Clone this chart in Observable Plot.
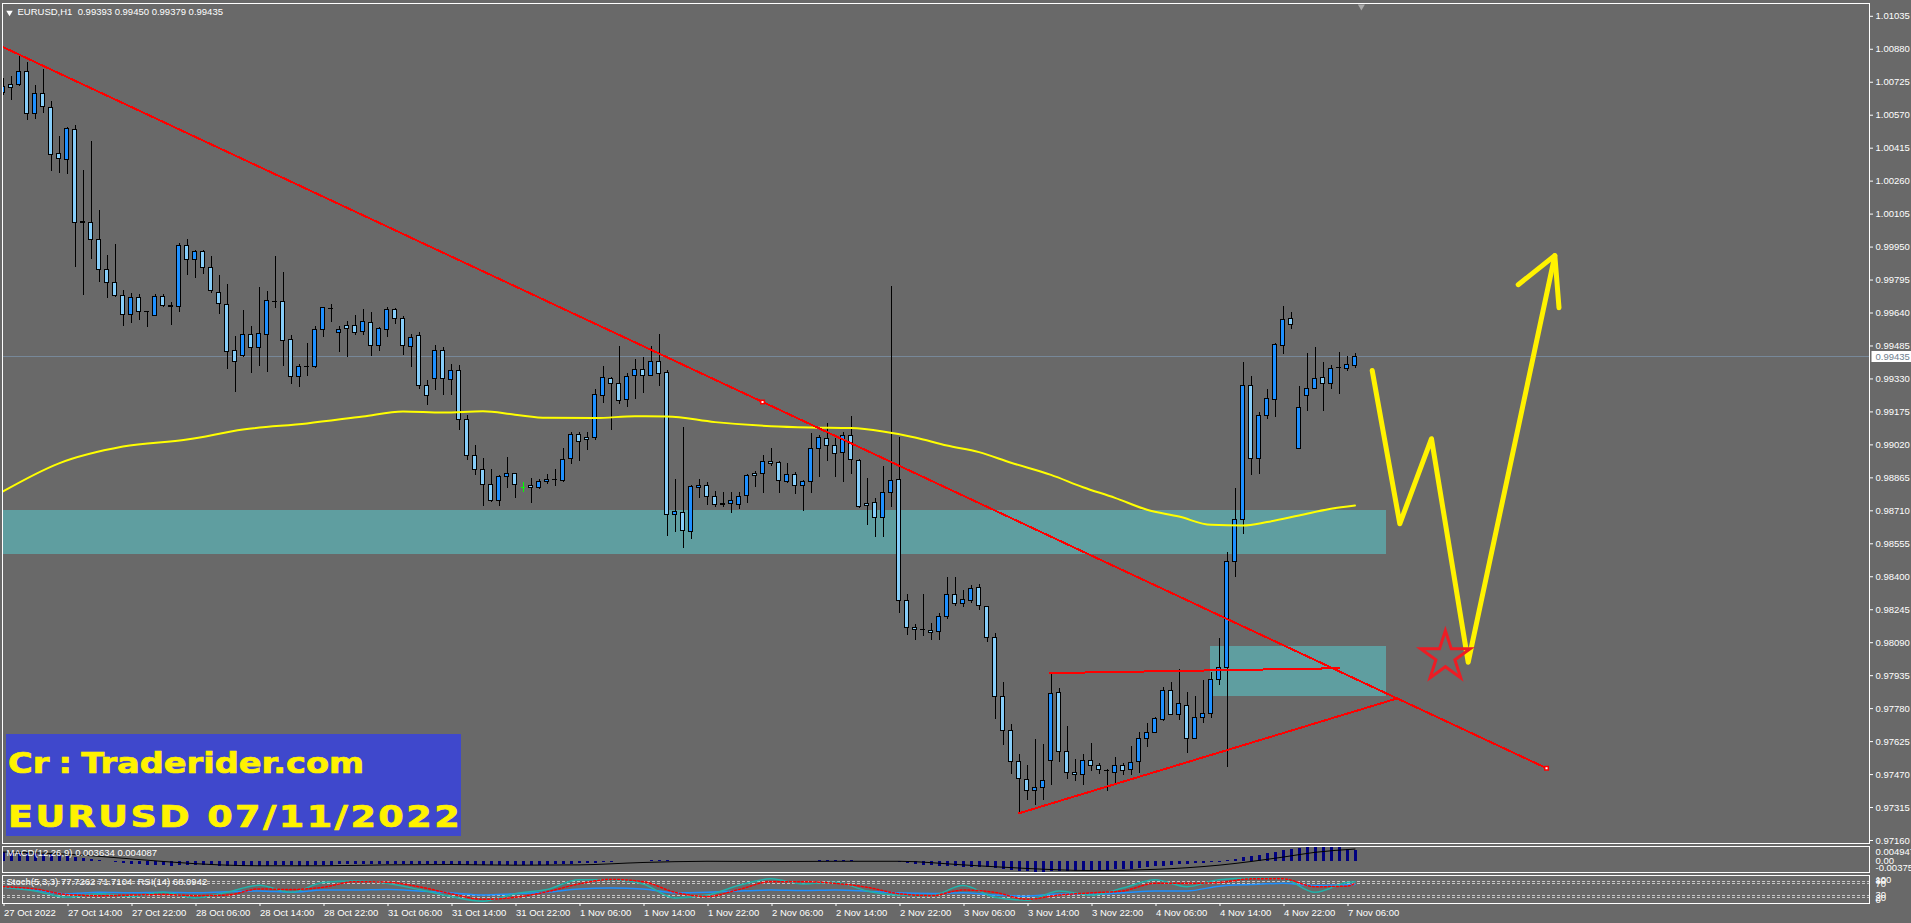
<!DOCTYPE html>
<html><head><meta charset="utf-8">
<script src="https://cdn.jsdelivr.net/npm/d3@7"></script>
<script src="https://cdn.jsdelivr.net/npm/@observablehq/plot@0.6"></script>
<style>
html,body{margin:0;padding:0;background:#696969;overflow:hidden}
#chart{position:relative;width:1911px;height:923px;background:#696969;overflow:hidden}
#chart>svg{position:absolute;left:0;top:0}
#wm{position:absolute;left:6px;top:734px;width:455px;height:102px;background:#3F48CC;overflow:hidden}
#wm div{position:absolute;left:2px;color:#FFF200;font-family:"DejaVu Sans",sans-serif;font-weight:bold;white-space:nowrap;line-height:1;transform-origin:0 0;-webkit-text-stroke:0.7px #FFF200}
</style></head><body>
<div id="chart"></div>
<script>
// ---------------- DATA ----------------
const symbol = "EURUSD,H1";
const open = [1.00674,1.00713,1.00713,1.00772,1.00577,1.00671,1.00603,1.00389,1.00360,1.00501,
1.00066,1.00062,0.99984,0.99843,0.99782,0.99719,0.99632,0.99712,0.99644,0.99627,
0.99714,0.99671,0.99667,0.99954,0.99887,0.99929,0.99853,0.99735,0.99679,0.99461,
0.99437,0.99538,0.99477,0.99538,0.99694,0.99691,0.99514,0.99338,0.99385,0.99385,
0.99561,0.99660,0.99545,0.99577,0.99577,0.99550,0.99594,0.99484,0.99561,0.99652,
0.99610,0.99479,0.99530,0.99296,0.99331,0.99461,0.99326,0.99367,0.99135,0.98970,
0.98900,0.98832,0.98755,0.98868,0.98884,0.98821,0.98826,0.98818,0.98845,0.98857,
0.98849,0.98955,0.99067,0.99053,0.99053,0.99249,0.99331,0.99307,0.99232,0.99343,
0.99370,0.99346,0.99412,0.99359,0.98691,0.98701,0.98610,0.98818,0.98826,0.98774,
0.98740,0.98743,0.98738,0.98782,0.98884,0.98881,0.98939,0.98934,0.98845,0.98879,
0.98829,0.98845,0.99002,0.99049,0.99017,0.98983,0.99064,0.98943,0.98743,0.98748,
0.98677,0.98795,0.98853,0.98285,0.98160,0.98151,0.98147,0.98139,0.98210,0.98312,
0.98273,0.98288,0.98348,0.98260,0.98113,0.97834,0.97674,0.97528,0.97445,0.97392,
0.97408,0.97533,0.97854,0.97575,0.97478,0.97469,0.97533,0.97509,0.97489,0.97477,
0.97509,0.97492,0.97528,0.97638,0.97666,0.97728,0.97865,0.97751,0.97792,0.97638,
0.97737,0.97756,0.97916,0.97970,0.98469,0.98668,0.99299,0.98955,0.99154,0.99232,
0.99487,0.99613,0.99002,0.99252,0.99284,0.99335,0.99307,0.99381,0.99378,0.99393];
const high = [1.00743,1.00752,1.00846,1.00819,1.00710,1.00784,1.00634,1.00470,1.00511,1.00522,
1.00310,1.00446,1.00122,0.99910,0.99962,0.99746,0.99730,0.99727,0.99647,0.99726,
0.99726,0.99691,0.99965,0.99984,0.99934,0.99934,0.99906,0.99816,0.99774,0.99530,
0.99652,0.99577,0.99761,0.99741,0.99906,0.99829,0.99534,0.99397,0.99495,0.99577,
0.99666,0.99680,0.99577,0.99602,0.99628,0.99655,0.99641,0.99571,0.99667,0.99660,
0.99625,0.99539,0.99550,0.99323,0.99487,0.99477,0.99397,0.99393,0.99158,0.99017,
0.98955,0.98903,0.98876,0.98959,0.98887,0.98845,0.98861,0.98856,0.98879,0.98903,
0.99002,0.99077,0.99077,0.99080,0.99279,0.99389,0.99335,0.99483,0.99357,0.99422,
0.99430,0.99483,0.99539,0.99370,0.98856,0.99100,0.98829,0.98857,0.98842,0.98801,
0.98795,0.98795,0.98795,0.98879,0.98895,0.98970,0.99002,0.98942,0.98934,0.98889,
0.98853,0.99072,0.99064,0.99122,0.99049,0.99080,0.99154,0.98950,0.98861,0.98767,
0.98920,0.99765,0.99056,0.98315,0.98174,0.98315,0.98179,0.98226,0.98398,0.98398,
0.98335,0.98359,0.98364,0.98262,0.98132,0.97904,0.97704,0.97564,0.97513,0.97635,
0.97611,0.97941,0.97876,0.97696,0.97541,0.97564,0.97618,0.97524,0.97494,0.97552,
0.97521,0.97602,0.97666,0.97709,0.97740,0.97881,0.97904,0.97963,0.97854,0.97837,
0.97912,0.97949,0.98108,0.98513,0.98814,0.99409,0.99342,0.99171,0.99279,0.99498,
0.99671,0.99641,0.99295,0.99448,0.99477,0.99409,0.99393,0.99453,0.99436,0.99450];
const low = [1.00663,1.00639,1.00705,1.00545,1.00548,1.00579,1.00307,1.00297,1.00290,0.99855,
0.99722,0.99890,0.99782,0.99707,0.99714,0.99578,0.99592,0.99605,0.99573,0.99624,
0.99667,0.99581,0.99644,0.99816,0.99804,0.99820,0.99733,0.99633,0.99374,0.99266,
0.99432,0.99357,0.99390,0.99362,0.99660,0.99390,0.99304,0.99291,0.99343,0.99378,
0.99526,0.99597,0.99456,0.99432,0.99534,0.99534,0.99437,0.99461,0.99526,0.99586,
0.99440,0.99385,0.99280,0.99205,0.99276,0.99252,0.99252,0.99088,0.98947,0.98876,
0.98730,0.98751,0.98730,0.98814,0.98767,0.98798,0.98743,0.98809,0.98834,0.98826,
0.98845,0.98928,0.98943,0.98994,0.99041,0.99216,0.99088,0.99210,0.99197,0.99233,
0.99263,0.99343,0.99295,0.98591,0.98610,0.98532,0.98575,0.98767,0.98735,0.98727,
0.98727,0.98696,0.98716,0.98746,0.98818,0.98790,0.98920,0.98793,0.98837,0.98785,
0.98708,0.98790,0.98865,0.98943,0.98868,0.98845,0.98881,0.98722,0.98641,0.98586,
0.98586,0.98727,0.98226,0.98124,0.98100,0.98119,0.98100,0.98100,0.98198,0.98262,
0.98257,0.98273,0.98241,0.98092,0.97728,0.97607,0.97470,0.97293,0.97348,0.97325,
0.97348,0.97419,0.97528,0.97447,0.97437,0.97419,0.97484,0.97470,0.97392,0.97427,
0.97466,0.97466,0.97477,0.97599,0.97662,0.97721,0.97748,0.97724,0.97568,0.97635,
0.97712,0.97732,0.97889,0.97505,0.98395,0.98599,0.98876,0.98879,0.99138,0.99150,
0.99445,0.99563,0.99002,0.99178,0.99284,0.99178,0.99279,0.99256,0.99365,0.99379];
const close = [1.00702,1.00699,1.00772,1.00577,1.00671,1.00608,1.00384,1.00365,1.00506,1.00062,
1.00063,0.99984,0.99843,0.99782,0.99719,0.99632,0.99712,0.99647,0.99645,0.99714,
0.99671,0.99669,0.99954,0.99887,0.99929,0.99853,0.99743,0.99683,0.99456,0.99412,
0.99538,0.99477,0.99542,0.99696,0.99693,0.99508,0.99338,0.99385,0.99386,0.99561,
0.99665,0.99658,0.99561,0.99566,0.99545,0.99600,0.99484,0.99563,0.99652,0.99613,
0.99484,0.99524,0.99296,0.99252,0.99461,0.99331,0.99367,0.99135,0.98970,0.98900,
0.98832,0.98755,0.98868,0.98884,0.98832,0.98821,0.98818,0.98845,0.98857,0.98856,
0.98950,0.99067,0.99033,0.99044,0.99256,0.99335,0.99307,0.99225,0.99338,0.99370,
0.99343,0.99412,0.99351,0.98691,0.98704,0.98614,0.98821,0.98826,0.98774,0.98738,
0.98739,0.98754,0.98774,0.98873,0.98876,0.98939,0.98931,0.98848,0.98879,0.98829,
0.98845,0.99002,0.99053,0.99014,0.98978,0.99064,0.98947,0.98730,0.98732,0.98677,
0.98795,0.98848,0.98285,0.98160,0.98151,0.98150,0.98137,0.98210,0.98312,0.98273,
0.98292,0.98343,0.98263,0.98113,0.97834,0.97674,0.97528,0.97450,0.97392,0.97408,
0.97442,0.97850,0.97575,0.97477,0.97469,0.97533,0.97509,0.97492,0.97488,0.97509,
0.97486,0.97525,0.97638,0.97666,0.97732,0.97865,0.97751,0.97803,0.97638,0.97737,
0.97756,0.97916,0.97970,0.98469,0.98668,0.99299,0.98955,0.99154,0.99237,0.99491,
0.99608,0.99585,0.99194,0.99284,0.99331,0.99307,0.99378,0.99382,0.99397,0.99435];

// moving average (yellow), read at sample bars
const maBars = [0,7,15,23,30,38,45,50,55,60,64,68,74,79,83,89,96,101,106,110,114,118,122,126,131,135,139,143,147,151,155,158,162,166,169];
const maValues = [0.98801,0.98933,0.99012,0.99045,0.99092,0.99121,0.99154,0.99177,0.99172,0.99178,0.99162,0.99147,0.99146,0.99155,0.99154,0.99127,0.99108,0.99102,0.99099,0.99083,0.99055,0.99017,0.98986,0.98936,0.98879,0.98821,0.98771,0.98715,0.98683,0.98644,0.98641,0.98657,0.98688,0.98720,0.98735];

// MACD histogram (main) per bar
const macdMain = [0.0030,0.0029,0.0028,0.0027,0.0026,0.0024,0.0022,0.0020,
0.0017,0.0014,0.0010,0.0006,0.0002,-0.0002,-0.0005,-0.0008,
-0.0010,-0.0012,-0.0013,-0.0014,-0.0015,-0.0016,-0.0015,-0.0014,
-0.0014,-0.0014,-0.0015,-0.0016,-0.0017,-0.0018,-0.0018,-0.0018,
-0.0017,-0.0016,-0.0015,-0.0015,-0.0015,-0.0016,-0.0016,-0.0015,
-0.0014,-0.0013,-0.0012,-0.0012,-0.0011,-0.0011,-0.0011,-0.0011,
-0.0010,-0.0010,-0.0010,-0.0010,-0.0011,-0.0012,-0.0012,-0.0012,
-0.0012,-0.0013,-0.0014,-0.0015,-0.0015,-0.0015,-0.0015,-0.0014,
-0.0014,-0.0014,-0.0014,-0.0013,-0.0013,-0.0012,-0.0011,-0.0010,
-0.0009,-0.0008,-0.0006,-0.0004,-0.0003,-0.0002,-0.0001,0.0000,
0.0000,0.0001,0.0001,0.0001,0.0000,-0.0001,-0.0001,-0.0001,
-0.0001,-0.0002,-0.0002,-0.0002,-0.0002,-0.0001,-0.0001,0.0000,
0.0000,0.0000,0.0000,0.0000,0.0000,0.0000,0.0001,0.0001,
0.0001,0.0001,0.0001,0.0000,0.0000,-0.0001,-0.0001,-0.0001,
-0.0004,-0.0007,-0.0010,-0.0013,-0.0015,-0.0017,-0.0018,-0.0019,
-0.0020,-0.0020,-0.0021,-0.0022,-0.0024,-0.0027,-0.0030,-0.0033,
-0.0035,-0.0036,-0.0036,-0.0035,-0.0035,-0.0035,-0.0034,-0.0033,
-0.0032,-0.0031,-0.0030,-0.0029,-0.0028,-0.0026,-0.0024,-0.0022,
-0.0019,-0.0016,-0.0014,-0.0012,-0.0011,-0.0009,-0.0007,-0.0005,
-0.0003,0.0001,0.0006,0.0012,0.0016,0.0021,0.0026,0.0031,
0.0036,0.0040,0.0043,0.0046,0.0048,0.00495,0.0048,0.0045,0.0041,0.003634];
const macdSignalBars = [0,8,16,24,32,40,48,56,64,72,80,88,96,104,112,120,128,136,144,152,160,164,169];
const macdSignal = [0.0031,0.0024,0.0008,-0.0008,-0.0015,-0.0015,-0.0012,-0.0011,-0.0013,-0.0012,-0.0004,0.0000,-0.0001,0.0000,0.0000,-0.0012,-0.0024,-0.0031,-0.0027,-0.0013,0.0014,0.0030,0.004087];
const macdScaleMax = 0.004947, macdScaleMin = -0.00375;

// Stochastic (5,3,3) and RSI(14)
const oscBars = [0,4,8,12,16,20,24,28,32,36,40,44,48,52,56,60,64,68,72,76,80,84,88,92,96,100,104,108,112,116,120,124,128,132,136,140,144,148,152,156,160,164,168,169];
const stochMain = [58,45,22,35,25,40,20,40,65,40,75,80,72,50,25,8,35,50,85,85,70,20,30,65,88,70,76,45,30,28,64,22,12,45,30,55,85,60,85,90,88,40,75,77.7262];
const stochSignal = [60,52,32,28,30,32,28,30,52,50,58,78,76,60,35,15,22,42,70,86,78,40,25,50,78,78,72,58,35,28,48,40,15,30,38,45,72,72,75,88,88,60,62,71.7104];
const rsi = [58,48,35,40,38,40,38,42,45,40,48,48,50,45,38,30,35,40,52,55,52,38,40,45,48,46,48,44,38,36,38,30,26,34,33,38,45,45,62,68,72,64,67,68.0942];
const oscLevels = [80,70,30,20];

// axes
const priceTicks = [1.01035,1.00880,1.00725,1.00570,1.00415,1.00260,1.00105,0.99950,0.99795,0.99640,0.99485,0.99330,0.99175,0.99020,0.98865,0.98710,0.98555,0.98400,0.98245,0.98090,0.97935,0.97780,0.97625,0.97470,0.97315,0.97160];
const timeTickBars = [0,8,16,24,32,40,48,56,64,72,80,88,96,104,112,120,128,136,144,152,160,168];
const timeLabels = ["27 Oct 2022","27 Oct 14:00","27 Oct 22:00","28 Oct 06:00","28 Oct 14:00","28 Oct 22:00","31 Oct 06:00","31 Oct 14:00","31 Oct 22:00","1 Nov 06:00","1 Nov 14:00","1 Nov 22:00","2 Nov 06:00","2 Nov 14:00","2 Nov 22:00","3 Nov 06:00","3 Nov 14:00","3 Nov 22:00","4 Nov 06:00","4 Nov 14:00","4 Nov 22:00","7 Nov 06:00"];

// drawn objects (bar index, price)
const zoneStartBar = [-10, 150.9];
const zoneEndBar = [172.9, 172.9];
const zoneTop = [0.98712, 0.98072];
const zoneBottom = [0.98505, 0.97837];
const downTrendBars = [-3.06, 192.94];
const downTrendPrices = [1.00944, 0.97500];
const downTrendMarkBars = [94.94, 192.94];
const downTrendMarkPrices = [0.99222, 0.97500];
const triTopBars = [130.9, 167.0];
const triTopPrices = [0.97947, 0.97970];
const triBottomBars = [127.0, 174.1];
const triBottomPrices = [0.97288, 0.97826];
const arrowBars = [171.15, 174.6, 178.56, 183.15, 193.98];
const arrowPrices = [0.99370, 0.98649, 0.99049, 0.97998, 0.99910];
const arrowHeadBars = [189.4, 193.98, 194.5];
const arrowHeadPrices = [0.99773, 0.99910, 0.99665];
const starBar = 180.3, starPrice = 0.98024;
const chartShiftBar = 169.8;
const watermark = ["Cr : Traderider.com", "EURUSD 07/11/2022"];

// ---------------- BUILD ----------------
const W = 1911, H = 923;
const FONT = '"Liberation Sans", Arial, sans-serif';
const n = close.length;
const candles = d3.range(n).map(i => ({i, open: open[i], high: high[i], low: low[i], close: close[i]}));
const bid = close[n - 1];
const xs = {type: "linear", domain: [0, n - 1], range: [2.5, 2.5 + 8 * (n - 1)]};
const baseStyle = {background: "transparent", color: "white", fontFamily: FONT, fontSize: "9.5px", overflow: "visible"};
const pts = (bs, vs) => bs.map((b, k) => ({b, v: vs[k]}));
const zones = zoneStartBar.map((b, k) => ({b1: b, b2: zoneEndBar[k], p1: zoneTop[k], p2: zoneBottom[k]}));
const BULL = "#1E90FF", BEAR = "#87CEFA";
const boxSymbol = {draw(ctx) { ctx.rect(-20, -5.5, 40, 11); }};
const chart = document.getElementById("chart");

const main = Plot.plot({
  width: W, height: H,
  marginLeft: 2, marginRight: 42, marginTop: 3, marginBottom: H - 843,
  style: baseStyle,
  x: {...xs, axis: null},
  y: {domain: [0.97160, 1.01035], range: [840, 15.8]},
  marks: [
    Plot.rect(zones, {x1: "b1", x2: "b2", y1: "p1", y2: "p2", fill: "#5F9EA0", clip: true, shapeRendering: "crispEdges"}),
    Plot.ruleY([bid], {stroke: "#778899", clip: true, shapeRendering: "crispEdges"}),
    Plot.ruleX(candles, {x: "i", y1: "low", y2: "high", stroke: d => d.open === d.close ? "#00ff00" : "#000", clip: true, shapeRendering: "crispEdges"}),
    Plot.rect(candles.filter(d => d.open !== d.close), {x1: d => d.i - 0.25, x2: d => d.i + 0.25, y1: "open", y2: "close",
      fill: d => d.close > d.open ? BULL : BEAR, stroke: "#000", strokeWidth: 1, clip: true, shapeRendering: "crispEdges"}),
    Plot.link(candles.filter(d => d.open === d.close), {x1: d => d.i - 0.25, x2: d => d.i + 0.25, y1: "open", y2: "close", stroke: "#00ff00", clip: true, shapeRendering: "crispEdges"}),
    Plot.line(pts(maBars, maValues), {x: "b", y: "v", stroke: "#ffff00", strokeWidth: 2, curve: "monotone-x", clip: true}),
    Plot.line(pts(downTrendBars, downTrendPrices), {x: "b", y: "v", stroke: "#ff0000", strokeWidth: 2, clip: true, shapeRendering: "crispEdges"}),
    Plot.line(pts(triTopBars, triTopPrices), {x: "b", y: "v", stroke: "#ff0000", strokeWidth: 2, clip: true, shapeRendering: "crispEdges"}),
    Plot.line(pts(triBottomBars, triBottomPrices), {x: "b", y: "v", stroke: "#ff0000", strokeWidth: 2, clip: true, shapeRendering: "crispEdges"}),
    Plot.dot(pts(downTrendMarkBars, downTrendMarkPrices), {x: "b", y: "v", symbol: "square", r: 2, fill: "white", stroke: "#ff0000", strokeWidth: 1.5}),
    Plot.line(pts(arrowBars, arrowPrices), {x: "b", y: "v", stroke: "#fff200", strokeWidth: 5, strokeLinecap: "round", strokeLinejoin: "round", clip: true}),
    Plot.line(pts(arrowHeadBars, arrowHeadPrices), {x: "b", y: "v", stroke: "#fff200", strokeWidth: 5, strokeLinecap: "round", strokeLinejoin: "round", clip: true}),
    Plot.dot([{b: starBar, v: starPrice}], {x: "b", y: "v", symbol: "star", r: 15.6, fill: "none", stroke: "#ed1c24", strokeWidth: 3}),
    Plot.dot([chartShiftBar], {x: d => d, frameAnchor: "top", dy: 3, symbol: "triangle", rotate: 180, r: 2.6, fill: "#a9a9a9"}),
    Plot.frame({stroke: "white", shapeRendering: "crispEdges"}),
    Plot.axisY(priceTicks, {anchor: "right", tickSize: 3, tickPadding: 3, tickFormat: d => d.toFixed(5), fill: "white", stroke: "white", label: null}),
    Plot.dot([bid], {y: d => d, frameAnchor: "right", dx: 22, symbol: boxSymbol, fill: "white", stroke: "none"}),
    Plot.text([bid], {y: d => d, frameAnchor: "right", dx: 6, textAnchor: "start", text: d => d.toFixed(5), fill: "#6f7f8f"}),
    Plot.dot([0], {frameAnchor: "top-left", dx: 7, dy: 9, symbol: "triangle", rotate: 180, r: 2.4, fill: "white"}),
    Plot.text([`${symbol}  ${open[n-1].toFixed(5)} ${high[n-1].toFixed(5)} ${low[n-1].toFixed(5)} ${close[n-1].toFixed(5)}`],
      {frameAnchor: "top-left", dx: 15, dy: 4.5, lineAnchor: "top", textAnchor: "start", text: d => d, fill: "white"})
  ]
});

const macd = Plot.plot({
  width: W, height: H,
  marginLeft: 2, marginRight: 42, marginTop: 846, marginBottom: H - 872,
  style: baseStyle,
  x: {...xs, axis: null},
  y: {domain: [macdScaleMin, macdScaleMax], range: [872, 846], axis: null},
  marks: [
    Plot.ruleX(macdMain.map((v, i) => ({i, v})), {x: "i", y1: 0, y2: "v", stroke: "#000080", strokeWidth: 3, clip: true, shapeRendering: "crispEdges"}),
    Plot.line(pts(macdSignalBars, macdSignal), {x: "b", y: "v", stroke: "#000", strokeWidth: 1, curve: "monotone-x", clip: true}),
    Plot.frame({stroke: "white", shapeRendering: "crispEdges"}),
    Plot.text([`MACD(12,26,9) ${macdMain[n-1].toFixed(6)} ${macdSignal[macdSignal.length-1].toFixed(6)}`],
      {frameAnchor: "top-left", dx: 4, dy: 2.5, lineAnchor: "top", textAnchor: "start", text: d => d, fill: "white"}),
    Plot.text([macdScaleMax], {y: d => d, frameAnchor: "right", dx: 6, dy: 1.5, lineAnchor: "top", textAnchor: "start", text: d => d.toFixed(6), fill: "white"}),
    Plot.text([0], {y: d => d, frameAnchor: "right", dx: 6, lineAnchor: "middle", textAnchor: "start", text: d => d.toFixed(2), fill: "white"}),
    Plot.text([macdScaleMin], {y: d => d, frameAnchor: "right", dx: 6, dy: -1.5, lineAnchor: "bottom", textAnchor: "start", text: d => d.toFixed(5), fill: "white"})
  ]
});

const osc = Plot.plot({
  width: W, height: H,
  marginLeft: 2, marginRight: 42, marginTop: 875, marginBottom: H - 903,
  style: baseStyle,
  x: xs,
  y: {domain: [0, 100], range: [903, 875]},
  marks: [
    Plot.ruleY(oscLevels, {stroke: "#c8c8c8", strokeDasharray: "3,2", shapeRendering: "crispEdges"}),
    Plot.line(pts(oscBars, rsi), {x: "b", y: "v", stroke: "#1E90FF", curve: "monotone-x", clip: true}),
    Plot.line(pts(oscBars, stochMain), {x: "b", y: "v", stroke: "#20B2AA", curve: "monotone-x", clip: true}),
    Plot.line(pts(oscBars, stochSignal), {x: "b", y: "v", stroke: "#ff0000", strokeDasharray: "2,2", curve: "monotone-x", clip: true}),
    Plot.frame({stroke: "white", shapeRendering: "crispEdges"}),
    Plot.text([`Stoch(5,3,3) ${stochMain[stochMain.length-1].toFixed(4)} ${stochSignal[stochSignal.length-1].toFixed(4)}  RSI(14) ${rsi[rsi.length-1].toFixed(4)}`],
      {frameAnchor: "top-left", dx: 4, dy: 2.5, lineAnchor: "top", textAnchor: "start", text: d => d, fill: "white"}),
    Plot.axisY(oscLevels, {anchor: "right", tickSize: 0, tickPadding: 6, fill: "white", label: null}),
    Plot.text([100], {y: d => d, frameAnchor: "right", dx: 6, dy: 1, lineAnchor: "top", textAnchor: "start", text: d => String(d), fill: "white"}),
    Plot.text([0], {y: d => d, frameAnchor: "right", dx: 6, dy: -1, lineAnchor: "bottom", textAnchor: "start", text: d => String(d), fill: "white"}),
    Plot.axisX(timeTickBars, {anchor: "bottom", tickSize: 3, tickPadding: 3, textAnchor: "start", dx: 1,
      tickFormat: d => timeLabels[timeTickBars.indexOf(d)], fill: "white", stroke: "white", label: null})
  ]
});

chart.append(main, macd, osc);

const wm = document.createElement("div");
wm.id = "wm";
const l1 = document.createElement("div");
l1.textContent = watermark[0];
Object.assign(l1.style, {top: "16px", fontSize: "28px", letterSpacing: "0px", wordSpacing: "-2px", transform: "scaleX(1.2)"});
const l2 = document.createElement("div");
l2.textContent = watermark[1];
Object.assign(l2.style, {top: "67.5px", fontSize: "30px", letterSpacing: "2px", transform: "scaleX(1.22)"});
wm.append(l1, l2);
chart.append(wm);
</script></body></html>
